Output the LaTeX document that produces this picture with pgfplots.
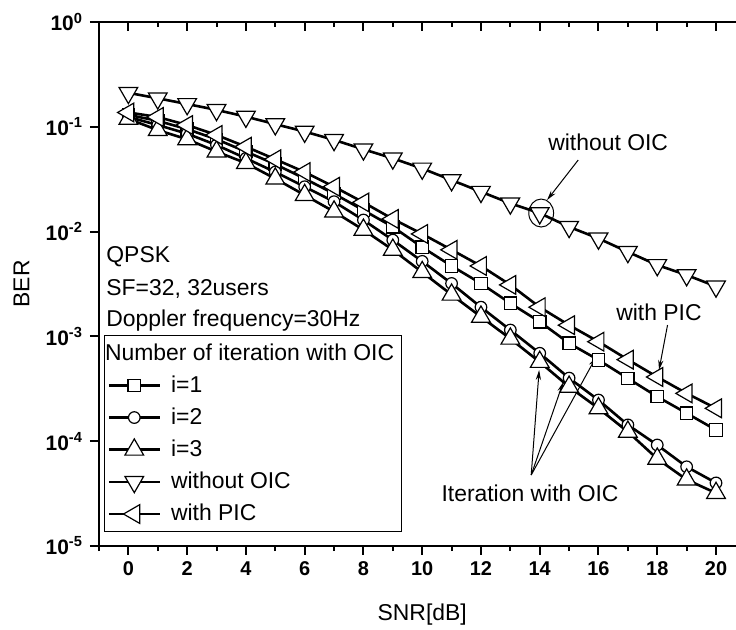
\documentclass[border=0pt]{standalone}
\usepackage{fontspec}
\setmainfont{Liberation Sans}
\usepackage{pgfplots}
\pgfplotsset{compat=1.18}
\usetikzlibrary{arrows.meta}

\pgfplotstableread{
x y
0 0.130
1 0.114
2 0.095
3 0.076
4 0.058
5 0.044
6 0.032
7 0.023
8 0.0160
9 0.0111
10 0.0071
11 0.0047
12 0.0032
13 0.00207
14 0.00138
15 0.00086
16 0.000596
17 0.000398
18 0.000266
19 0.000185
20 0.000128
}\iOne
\pgfplotstableread{
x y
0 0.124
1 0.104
2 0.086
3 0.067
4 0.050
5 0.037
6 0.0268
7 0.0193
8 0.0129
9 0.0083
10 0.0052
11 0.0032
12 0.0019
13 0.00115
14 0.00069
15 0.00040
16 0.000247
17 0.000143
18 0.000092
19 0.000057
20 0.000040
}\iTwo
\pgfplotstableread{
x y
0 0.119
1 0.093
2 0.076
3 0.058
4 0.045
5 0.032
6 0.0223
7 0.0155
8 0.0104
9 0.0067
10 0.0041
11 0.0025
12 0.00154
13 0.00095
14 0.00057
15 0.00033
16 0.000206
17 0.000123
18 0.000068
19 0.000043
20 0.000032
}\iThree
\pgfplotstableread{
x y
0 0.211
1 0.187
2 0.165
3 0.145
4 0.125
5 0.106
6 0.090
7 0.075
8 0.061
9 0.050
10 0.040
11 0.031
12 0.024
13 0.0186
14 0.0150
15 0.0111
16 0.0086
17 0.0064
18 0.0048
19 0.00385
20 0.0030
}\woOIC
\pgfplotstableread{
x y
0 0.137
1 0.124
2 0.104
3 0.0835
4 0.0646
5 0.049
6 0.037
7 0.0268
8 0.0190
9 0.0132
10 0.0095
11 0.0067
12 0.0047
13 0.0031
14 0.0019
15 0.00128
16 0.00089
17 0.00060
18 0.00041
19 0.000286
20 0.000206
}\wPIC

\tikzset{curve/.style={black, line width=1.3bp}}

\begin{document}
\begin{tikzpicture}
\begin{axis}[
  scale only axis, width=318.5bp, height=262bp,
  xmin=-1, xmax=20.68, ymin=1e-5, ymax=1,
  ymode=log, log basis y=10,
  xtick={0,2,...,20}, minor xtick={-1,1,...,21},
  major tick length=4.5bp, minor tick length=2.5bp,
  tick style={black, line width=1bp},
  axis line style={line width=1.1bp},
  /pgf/number format/assume math mode=true,
  font=\fontsize{11.5}{13.8}\selectfont,
  axis x line*=bottom, axis y line*=left,
  xtick align=outside, ytick align=outside,
  ytick={1e-5,1e-4,1e-3,1e-2,1e-1,1},
  xticklabel style={font=\bfseries\fontsize{10}{12}\selectfont},
  yticklabel style={font=\bfseries\fontsize{10.5}{12}\selectfont},
  yticklabel={10\textsuperscript{\pgfmathparse{int(round(\tick))}\pgfmathresult}},
  xlabel={SNR[dB]}, ylabel={BER},
  xlabel style={at={(axis description cs:0.5074,-0.1317)}, anchor=center},
  ylabel style={at={(axis description cs:-0.1217,0.5)}, anchor=center},
  legend image code/.code={\draw[mark repeat=2,mark phase=2,#1] plot coordinates {(0bp,0bp) (12.75bp,0bp) (25.5bp,0bp)};},
  legend style={at={(axis description cs:0.00785,0.4028)}, anchor=north west,
    draw=black, line width=0.5bp, fill=white, inner xsep=1.5bp, inner ysep=2bp,
    row sep=2.3bp, cells={anchor=west},
    /tikz/every odd column/.append style={column sep=3bp},
    font=\fontsize{11.5}{13.8}\selectfont},
]
\addlegendimage{empty legend}
\addlegendentry{\hspace{-33bp}Number of iteration with OIC}
\addplot[curve, mark=square*, mark size=3.1bp, mark options={fill=white, line width=0.6bp, solid}] table[x=x,y=y] {\iOne};
\addlegendentry{i=1}
\addplot[curve, mark=*, mark size=2.9bp, mark options={fill=white, line width=0.6bp, solid}] table[x=x,y=y] {\iTwo};
\addlegendentry{i=2}
\addplot[curve, mark=triangle*, mark size=5.4bp, mark options={fill=white, line width=0.6bp, solid}] table[x=x,y=y] {\iThree};
\addlegendentry{i=3}
\addplot[curve, mark=triangle*, mark size=5.4bp, mark options={fill=white, line width=0.6bp, solid, rotate=180}] table[x=x,y=y] {\woOIC};
\addlegendentry{without OIC}
\addplot[curve, mark=triangle*, mark size=5.4bp, mark options={fill=white, line width=0.6bp, solid, rotate=90}] table[x=x,y=y] {\wPIC};
\addlegendentry{with PIC}

\node[anchor=base west, inner sep=0pt] at (axis description cs:0.011,0.5401) {QPSK};
\node[anchor=base west, inner sep=0pt] at (axis description cs:0.011,0.4790) {SF=32, 32users};
\node[anchor=base west, inner sep=0pt] at (axis description cs:0.011,0.4198) {Doppler frequency=30Hz};

\node[anchor=center, inner sep=0pt] at (axis cs:16.33,0.0716) {without OIC};
\draw[-{Stealth[length=5bp,width=2.6bp]}, line width=0.5bp] (axis cs:15.31,0.0482) -- (axis cs:14.25,0.0200);
\draw[line width=0.5bp] (axis cs:14.05,0.01504) ellipse [x radius=6.2bp, y radius=7bp];

\node[anchor=center, inner sep=0pt] at (axis cs:18.06,1.71e-3) {with PIC};
\draw[-{Stealth[length=5bp,width=2.6bp]}, line width=0.5bp] (axis cs:18.35,1.284e-3) -- (axis cs:18.06,4.78e-4);

\node[anchor=center, inner sep=0pt] at (axis cs:13.67,3.2e-5) {Iteration with OIC};
\draw[-{Stealth[length=5bp,width=2.6bp]}, line width=0.5bp] (axis cs:13.71,4.76e-5) -- (axis cs:13.98,4.78e-4);
\draw[-{Stealth[length=5bp,width=2.6bp]}, line width=0.5bp] (axis cs:13.71,4.76e-5) -- (axis cs:14.80,3.67e-4);
\draw[-{Stealth[length=5bp,width=2.6bp]}, line width=0.5bp] (axis cs:13.71,4.76e-5) -- (axis cs:15.92,6.36e-4);
\end{axis}
\begin{axis}[
  scale only axis, width=318.5bp, height=262bp,
  xmin=-1, xmax=20.68, ymin=1e-5, ymax=1,
  ymode=log,
  xtick={0,2,...,20}, minor xtick={-1,1,...,21},
  major tick length=4.5bp, minor tick length=2.5bp,
  tick style={black, line width=1bp},
  axis line style={line width=1.1bp},
  axis x line*=top, axis y line=none,
  xtick align=inside, xticklabels={},
]
\end{axis}
\pgfresetboundingbox
\path[use as bounding box] (-49.5bp,-42bp) rectangle (318.5bp,273bp);
\end{tikzpicture}
\end{document}
